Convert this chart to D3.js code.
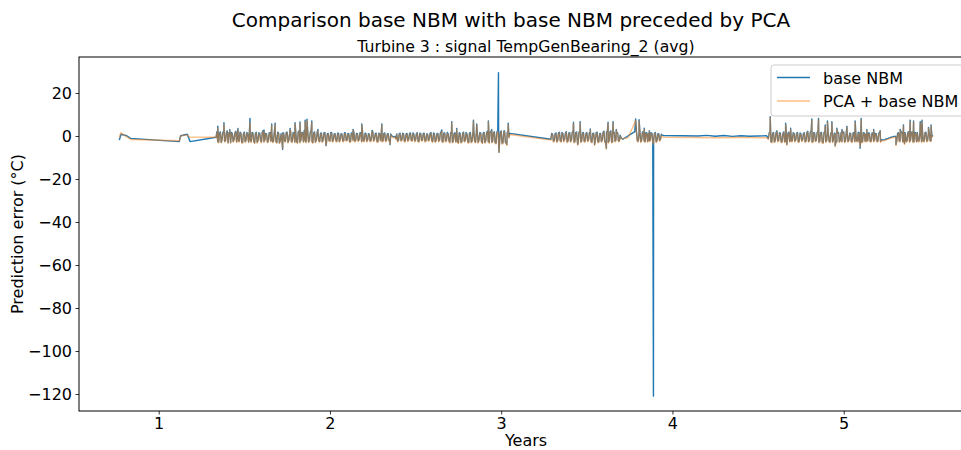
<!DOCTYPE html>
<html>
<head>
<meta charset="utf-8">
<script src="https://cdn.jsdelivr.net/npm/d3@7/dist/d3.min.js"></script>
<style>
  body { margin: 0; background: #fff; }
  svg { display: block; font-family: "DejaVu Sans", sans-serif; }
  .tick text { font-size: 16px; fill: #000; }
</style>
</head>
<body>
<svg id="chart" width="961" height="450"></svg>
<script>
(function () {
  // ==================
  // Data (years, prediction error in °C)
  // ==================
  const xTicks = [1, 2, 3, 4, 5];
  const yTicks = [20, 0, -20, -40, -60, -80, -100, -120];
  const seriesNames = ['base NBM', 'PCA + base NBM'];

  // dense stretches are sampled every STEP years from these starts,
  // a second reading sits half a step later (the "b" lists)
  const STEP = 0.01;
  const r1Start = 1.34;
  const r2Start = 3.29;
  const r3Start = 3.79;
  const r4Start = 4.56;

  // ---- base NBM ----
  const blueLead = [[0.770, -1.9], [0.780, 0.8], [0.813, 0.1], [0.836, -1.1], [1.120, -2.6],
    [1.128, 0.1], [1.167, 0.8], [1.183, -2.6], [1.335, -0.6]];
  const blueR1 = [
    2.0, -2.8, 1.9, -1.6, 2.1, -2.2, 2.4, 1.5, -3.0, 1.1,
    -1.7, 2.2, 1.8, -2.4, 1.3, -2.9, 1.8, -1.9, 0.9, 2.3,
    -2.6, 1.5, -3.2, 1.7, -2.0, 1.2, -2.7, 2.5, -1.8, 0.8,
    -2.3, 1.6, 2.0, -2.5, 1.9, -3.0, 1.4, -2.1, -2.6, 1.3,
    -2.4, 1.8, -1.9, 2.2, -2.6, 1.2, 2.1, -3.1, 2.4, -2.0,
    1.6, 2.6, -2.8, 2.2, -2.2, 2.5, -3.0, 1.9, -2.1, 1.7,
    -2.5, 1.4, -1.9, 1.6, -2.7, 1.2, -2.2, 1.5, -1.8, 1.1,
    -2.4, 1.3, -1.6, 0.9, -2.2, 1.4, -1.9, 1.0, -2.5, 1.2,
    1.6, -2.0, 1.1, -1.7, 1.5, 1.9, -2.3, 1.2, -1.8, 0.8,
    -2.1, 2.0, -1.6, 1.3, -2.6, 1.0, 1.8, -2.2, 1.4, -1.9,
    1.1, -2.4, 0.2, -0.4, -0.2, 1.0, -2.0, 1.3, -1.7, 0.9,
    -2.3, 1.2, -1.5, 1.4, -2.1, 0.8, -1.8, 1.5, -2.4, 1.1,
    -1.9, 1.3, -2.2, 0.9, -1.6, 1.6, -2.5, 1.0, -2.0, 1.2,
    -1.8, 2.2, -2.7, 1.4, -2.1, 1.1, -2.9, 2.0, -2.4, 1.5,
    1.9, -3.1, 1.2, -2.6, 1.8, -2.2, 1.0, -3.0, 1.6, -2.3,
    2.4, -2.8, 2.0, -2.0, 1.4, -3.2, 1.7, -2.1, 2.2, -3.0,
    2.1, -2.4, 1.9, -3.3, 2.5, -3.5, 2.3, -3.2, 2.0, -3.4,
    2.2, 1.2];
  const blueR1b = [
    -2.6, 1.2, -2.9, 1.7, -2.4, 1.5, -3.1, 0.9, 1.6, -2.5,
    1.4, -2.7, -2.2, 1.8, -3.0, 1.1, -2.6, 1.6, -2.8, -1.9,
    1.7, -2.4, 1.3, -2.9, 1.5, -2.2, 1.9, -2.6, 1.2, -2.8,
    1.4, -2.3, -2.7, 1.6, -2.5, 1.8, -3.2, 1.1, 1.5, -2.4,
    1.7, -2.9, 1.2, -2.5, 1.6, -2.8, -2.4, 1.9, -2.9, 1.4,
    -2.6, -2.2, 1.6, -2.7, 1.8, -2.5, 1.3, -2.8, 1.5, -2.3,
    1.2, -2.6, 1.4, -2.4, 1.1, -2.1, 1.6, -2.5, 1.0, -2.2,
    1.3, -2.5, 1.1, -2.3, 1.5, -2.0, 1.2, -2.6, 1.4, -1.9,
    -2.4, 1.2, -2.2, 1.4, -2.5, -2.1, 1.3, -2.4, 1.1, -2.3,
    1.5, -2.2, 1.2, -2.5, 1.3, -2.0, -2.4, 1.2, -2.3, 1.0,
    -2.1, 0.9, -0.1, -0.3, -1.2, -2.3, 1.1, -2.1, 1.3, -2.4,
    1.0, -2.2, 1.2, -2.0, 1.4, -2.3, 1.1, -2.5, 1.3, -2.0,
    1.2, -2.4, 1.0, -2.1, 1.3, -2.2, 1.4, -2.6, 1.1, -2.3,
    1.5, -2.5, 1.3, -2.4, 1.6, -2.2, 1.4, -2.8, 1.2, -2.6,
    -2.7, 1.5, -2.9, 1.3, -2.4, 1.6, -2.7, 1.4, -2.8, 1.3,
    -2.5, 1.6, -2.9, 1.5, -2.6, 1.4, -3.0, 1.7, -2.6, 1.5,
    -2.8, 1.6, -3.1, 1.8, -3.0, 1.9, -3.3, 1.7, -2.9, 1.6,
    -0.5];
  const blueR2 = [
    -1.5, 0.8, -2.2, 1.4, -1.9, 1.7, -2.5, 1.2, -1.6, 2.0,
    -2.3, 1.5, -1.8, 2.1, -2.6, 1.9, -2.4, 2.2, -2.1, 1.6,
    -2.4, 1.6, -1.7, 1.9, -2.8, 1.3, -2.0, 1.8, -2.6, 1.2,
    -1.9, 2.2, -2.9, 2.0, -2.3, 2.4, -2.7, 1.7, -1.8, 1.4,
    -2.2, -0.8];
  const blueR2b = [
    1.2, -2.4, 1.1, -2.6, 1.5, -2.2, 1.6, -2.3, 1.3, -2.7,
    1.4, -2.5, 1.7, -2.8, 1.5, -2.6, 1.9, -2.7, 1.4, -2.5,
    1.3, -2.3, 1.5, -2.6, 1.2, -2.4, 1.6, -2.8, 1.1, -2.5,
    1.7, -2.6, 1.8, -2.9, 1.9, -2.8, 1.5, -2.4, 1.2, -2.3,
    0.4];
  const blueGap = [[3.71, -1.5], [3.78, 2.0]];
  const blueR3 = [1.8, -2.4, 2.1, -1.8, 1.6, -2.6, 1.5, 1.2, -2.0, 1.3,
    -2.2, 1.6, -2.1, 1.0, -1.4, 0.3];
  const blueR3b = [-2.2, 1.7, -2.6, 1.9, -2.3, 1.4, -2.5, -2.2, 1.5, -2.4,
    1.2, -2.6, 1.1, -2.0, 0.8];
  const blueFlat = [[3.95, 0.2], [4.05, 0.1], [4.15, 0.0], [4.20, 0.3], [4.25, -0.1], [4.30, 0.2],
    [4.35, -0.2], [4.40, 0.1], [4.45, -0.1], [4.50, 0.0], [4.55, 0.1]];
  const blueR4 = [
    -1.2, 2.0, -2.8, 1.6, -2.2, 2.4, -1.9, 1.3, -2.6, 1.9,
    -2.4, -2.6, 1.8, 1.4, -2.2, 1.2, -1.7, 1.6, -2.5, 1.0,
    -1.8, 1.5, -2.3, 2.2, -1.9, 2.1, -2.6, 1.4, -2.0, 2.3,
    -2.4, 1.7, -3.1, 2.0, -2.1, 1.3, -2.7, 1.6, -1.8, 1.2,
    -2.6, 1.5, -2.0, -2.5, 1.9, -2.3, 1.5, -1.9, 1.2, -2.5,
    1.6, 2.0, -2.2, -2.7, 2.2, -2.6, 1.4, 1.0, -2.1, 1.3,
    -2.4, 1.5, -1.9, 1.1, -2.2, 1.5, -1.7, -1.9, -1.7, -1.4,
    -1.1, -0.8, -0.5, -0.3, -0.1, -2.0, 1.5, -2.1, 1.7, -2.5,
    1.4, -2.2, 2.0, -2.0, 1.8, -2.6, 1.5, 1.6, -2.3, 1.2,
    2.0, -2.4, 1.8, -1.9, 1.4, -2.1, 0.4];
  const blueR4b = [
    1.4, -2.5, 1.3, -2.7, 1.6, -2.4, 1.5, -2.8, 1.2, -2.6,
    1.6, 1.3, -2.5, -2.3, 1.5, -2.4, 1.3, -2.7, 1.4, -2.2,
    1.2, -2.6, 1.6, -2.5, 1.8, -2.7, 1.5, -2.3, 1.7, -2.8,
    1.5, -2.9, 1.6, -2.6, 1.7, -2.5, 1.4, -2.7, 1.3, -2.4,
    1.5, -2.6, 1.6, 1.4, -2.7, 1.6, -2.5, 1.3, -2.6, 1.4,
    -2.5, -2.3, 1.8, 1.6, -2.8, 1.5, -2.4, -2.3, 1.4, -2.5,
    1.3, -2.4, 1.2, -2.5, 1.3, -2.6, -1.8, -1.8, -1.5, -1.2,
    -0.9, -0.6, -0.4, -0.2, -0.6, 1.3, -2.4, 1.6, -2.6, 1.5,
    -2.5, 1.7, -2.6, 1.8, -2.7, 1.6, -2.5, -2.4, 1.5, -2.6,
    -2.3, 1.6, -2.4, 1.5, -2.2, -0.3];
  const blueSpikes = [
    [1.345, 4.6], [1.381, 6.2], [1.415, 3.0], [1.463, 3.5], [1.533, 8.2], [1.615, 2.8],
    [1.660, 5.6], [1.680, 6.0], [1.724, -6.2], [1.767, 3.5], [1.796, 6.2], [1.825, 6.5],
    [1.855, 7.4], [1.866, 7.8], [1.894, 7.0], [1.930, 3.0], [1.977, -4.5], [2.135, 3.0],
    [2.186, 5.6], [2.246, 2.6], [2.303, 5.6], [2.351, -4.0], [2.653, 2.8], [2.711, 6.7],
    [2.740, 3.5], [2.838, 7.4], [2.857, 5.6], [2.925, 7.0], [2.945, 3.0], [2.984, 29.4],
    [2.987, -7.5], [3.017, 2.5], [3.033, -4.0], [3.041, 6.0],
    [3.422, 6.4], [3.447, -3.9], [3.461, 6.7], [3.520, 3.3], [3.545, -4.0], [3.614, -5.7],
    [3.624, 6.4], [3.653, 6.7], [3.672, 3.0],
    [3.785, 7.9], [3.805, 7.6], [3.835, 3.6], [3.865, 2.5], [3.889, -121.0],
    [4.571, 9.0], [4.661, 5.9], [4.668, -3.9], [4.690, 3.6], [4.814, 7.9], [4.853, 8.2],
    [4.892, 5.1], [4.905, 7.0], [4.931, 6.7], [4.950, -4.5], [4.960, 3.6], [4.990, 3.0],
    [5.019, 4.5], [5.067, 7.0], [5.096, -5.7], [5.102, 8.2], [5.135, 3.0], [5.175, 3.0],
    [5.213, 2.5], [5.305, -4.0], [5.330, 3.0], [5.349, 5.1], [5.355, -3.5], [5.388, 7.4],
    [5.408, 7.0], [5.447, 6.6], [5.457, 7.4], [5.495, 4.0], [5.510, 5.1]];

  // ---- PCA + base NBM ----
  const orangeLead = [[0.770, -0.8], [0.778, 1.5], [0.790, 0.9], [0.836, -1.6], [1.120, -2.2],
    [1.128, 0.0], [1.167, 0.5], [1.180, -0.5], [1.335, -0.6]];
  const orangeR1 = [
    1.6, -3.2, 1.5, -2.0, 1.8, -2.6, 2.0, 1.1, -3.3, 0.8,
    -2.1, 1.9, 1.4, -2.8, 1.0, -3.3, 1.5, -2.3, 0.6, 1.9,
    -3.0, 1.2, -3.5, 1.4, -2.4, 0.9, -3.1, 2.2, -2.2, 0.5,
    -2.7, 1.3, 1.7, -2.9, 1.5, -3.4, 1.1, -2.5, -2.9, 1.0,
    -2.8, 1.5, -2.3, 1.9, -3.0, 0.9, 1.8, -3.6, 2.0, -2.4,
    1.3, 2.2, -3.2, 1.9, -2.6, 2.1, -3.4, 1.6, -2.5, 1.4,
    -2.9, 1.1, -2.3, 1.3, -3.1, 0.9, -2.6, 1.2, -2.2, 0.8,
    -2.8, 1.0, -2.0, 0.6, -2.6, 1.1, -2.3, 0.7, -2.9, 0.9,
    1.3, -2.4, 0.8, -2.1, 1.2, 1.6, -2.7, 0.9, -2.2, 0.5,
    -2.5, 1.7, -2.0, 1.0, -3.0, 0.7, 1.5, -2.6, 1.1, -2.3,
    0.8, -2.8, -0.1, -0.7, -0.5, 0.7, -2.4, 1.0, -2.1, 0.6,
    -2.7, 0.9, -1.9, 1.1, -2.5, 0.5, -2.2, 1.2, -2.8, 0.8,
    -2.3, 1.0, -2.6, 0.6, -2.0, 1.3, -2.9, 0.7, -2.4, 0.9,
    -2.2, 1.8, -3.1, 1.1, -2.5, 0.8, -3.3, 1.7, -2.8, 1.2,
    1.6, -3.5, 0.9, -3.0, 1.5, -2.6, 0.7, -3.4, 1.3, -2.7,
    2.0, -3.2, 1.7, -2.4, 1.1, -3.6, 1.4, -2.5, 1.9, -3.4,
    1.8, -2.8, 1.6, -3.7, 2.1, -3.9, 2.0, -3.6, 1.7, -3.8,
    1.8, 0.7];
  const orangeR1b = [
    -3.0, 0.9, -3.2, 1.3, -2.8, 1.1, -3.4, 0.6, 1.2, -2.9,
    1.0, -3.1, -2.6, 1.4, -3.3, 0.8, -3.0, 1.2, -3.1, -2.3,
    1.3, -2.8, 0.9, -3.3, 1.1, -2.6, 1.5, -3.0, 0.8, -3.1,
    1.0, -2.7, -3.0, 1.2, -2.9, 1.4, -3.5, 0.7, 1.1, -2.8,
    1.3, -3.2, 0.8, -2.9, 1.2, -3.1, -2.8, 1.5, -3.2, 1.0,
    -3.0, -2.6, 1.2, -3.0, 1.4, -2.9, 0.9, -3.1, 1.1, -2.7,
    0.8, -3.0, 1.0, -2.8, 0.7, -2.5, 1.2, -2.9, 0.6, -2.6,
    0.9, -2.9, 0.7, -2.7, 1.1, -2.4, 0.8, -3.0, 1.0, -2.3,
    -2.8, 0.8, -2.6, 1.0, -2.9, -2.5, 0.9, -2.8, 0.7, -2.7,
    1.1, -2.6, 0.8, -2.9, 0.9, -2.4, -2.8, 0.8, -2.7, 0.6,
    -2.5, 0.5, -0.5, -0.8, -1.6, -2.7, 0.7, -2.5, 0.9, -2.8,
    0.6, -2.6, 0.8, -2.4, 1.0, -2.7, 0.7, -2.9, 0.9, -2.4,
    0.8, -2.8, 0.6, -2.5, 0.9, -2.6, 1.0, -3.0, 0.7, -2.7,
    1.1, -2.9, 0.9, -2.8, 1.2, -2.6, 1.0, -3.2, 0.8, -3.0,
    -3.1, 1.1, -3.3, 0.9, -2.8, 1.2, -3.1, 1.0, -3.2, 0.9,
    -2.9, 1.2, -3.3, 1.1, -3.0, 1.0, -3.4, 1.3, -3.0, 1.1,
    -3.2, 1.2, -3.5, 1.4, -3.4, 1.5, -3.7, 1.3, -3.3, 1.2,
    -0.9];
  const orangeR2 = [
    -1.9, 0.5, -2.6, 1.1, -2.3, 1.4, -2.9, 0.9, -2.0, 1.7,
    -2.7, 1.2, -2.2, 1.8, -3.0, 1.6, -2.9, 1.9, -2.5, 1.3,
    -2.8, 1.3, -2.1, 1.6, -3.2, 1.0, -2.4, 1.5, -3.0, 0.9,
    -2.3, 1.9, -3.4, 1.7, -2.7, 2.0, -3.1, 1.4, -2.2, 1.1,
    -2.6, -1.2];
  const orangeR2b = [
    0.8, -2.8, 0.7, -3.0, 1.1, -2.6, 1.2, -2.7, 0.9, -3.1,
    1.0, -2.9, 1.3, -3.2, 1.1, -3.0, 1.5, -3.1, 1.0, -2.9,
    0.9, -2.7, 1.1, -3.0, 0.8, -2.8, 1.2, -3.2, 0.7, -2.9,
    1.3, -3.0, 1.4, -3.3, 1.5, -3.2, 1.1, -2.8, 0.8, -2.7,
    0.0];
  const orangeGap = [[3.74, -0.9]];
  const orangeR3 = [1.5, -2.8, 1.8, -2.2, 1.3, -3.0, 1.2, 0.9, -2.4, 1.0,
    -2.6, 1.3, -2.5, 0.7, -1.8, -0.4];
  const orangeR3b = [-2.6, 1.3, -3.0, 1.5, -2.7, 1.0, -2.9, -2.6, 1.1, -2.8,
    0.8, -3.0, 0.7, -2.4, 0.4];
  const orangeFlat = [[3.95, -0.6], [4.10, -0.7], [4.25, -0.8], [4.40, -0.7], [4.55, -0.8]];
  const orangeR4 = [
    -1.6, 1.7, -3.2, 1.3, -2.6, 2.1, -2.3, 1.0, -3.0, 1.6,
    -2.8, -3.0, 1.5, 1.1, -2.6, 0.9, -2.1, 1.3, -2.9, 0.7,
    -2.2, 1.2, -2.7, 1.9, -2.3, 1.8, -3.0, 1.1, -2.4, 2.0,
    -2.8, 1.4, -3.5, 1.7, -2.5, 1.0, -3.1, 1.3, -2.2, 0.9,
    -3.0, 1.2, -2.4, -2.9, 1.6, -2.7, 1.2, -2.3, 0.9, -2.9,
    1.3, 1.7, -2.6, -3.0, 1.9, -3.0, 1.1, 0.8, -2.5, 1.0,
    -2.8, 1.2, -2.3, 0.8, -2.6, 1.2, -2.1, -2.3, -2.0, -1.8,
    -1.5, -1.2, -0.9, -0.7, -0.5, -2.4, 1.2, -2.5, 1.4, -2.9,
    1.1, -2.6, 1.7, -2.4, 1.5, -3.0, 1.2, 1.3, -2.7, 0.9,
    1.7, -2.8, 1.5, -2.3, 1.1, -2.5, 0.1];
  const orangeR4b = [
    1.0, -2.9, 0.9, -3.1, 1.2, -2.8, 1.1, -3.2, 0.8, -3.0,
    1.2, 0.9, -2.9, -2.7, 1.1, -2.8, 0.9, -3.1, 1.0, -2.6,
    0.8, -3.0, 1.2, -2.9, 1.4, -3.1, 1.1, -2.7, 1.3, -3.2,
    1.1, -3.3, 1.2, -3.0, 1.3, -2.9, 1.0, -3.1, 0.9, -2.8,
    1.1, -3.0, 1.2, 1.0, -3.1, 1.2, -2.9, 0.9, -3.0, 1.0,
    -2.9, -2.7, 1.4, 1.2, -3.2, 1.1, -2.8, -2.7, 1.0, -2.9,
    0.9, -2.8, 0.8, -2.9, 0.9, -3.0, -2.2, -2.2, -1.9, -1.6,
    -1.3, -1.0, -0.8, -0.6, -1.0, 0.9, -2.8, 1.2, -3.0, 1.1,
    -2.9, 1.3, -3.0, 1.4, -3.1, 1.2, -2.9, -2.8, 1.1, -3.0,
    -2.7, 1.2, -2.8, 1.1, -2.6, -0.7];
  const orangeSpikes = [
    [1.345, 3.8], [1.381, 5.5], [1.415, 2.6], [1.463, 3.0], [1.533, 6.5], [1.615, 2.2],
    [1.660, 5.0], [1.680, 5.4], [1.724, -5.8], [1.767, 3.1], [1.796, 5.7], [1.825, 6.0],
    [1.855, 6.8], [1.866, 7.1], [1.894, 6.4], [1.930, 2.6], [1.977, -4.2], [2.135, 2.6],
    [2.186, 5.0], [2.246, 2.2], [2.303, 5.1], [2.351, -3.8], [2.653, 2.1], [2.711, 6.2],
    [2.740, 3.1], [2.838, 6.9], [2.857, 5.1], [2.925, 6.5], [2.945, 2.6], [2.987, -7.7],
    [3.017, 2.1], [3.033, -4.4], [3.041, 5.4],
    [3.422, 5.8], [3.447, -4.3], [3.461, 6.1], [3.520, 2.9], [3.545, -4.4], [3.614, -6.1],
    [3.624, 5.9], [3.653, 6.2], [3.672, 2.8],
    [3.785, 7.2], [3.805, 7.0], [3.835, 3.2], [3.865, 2.1], [3.889, -3.8],
    [4.571, 8.6], [4.661, 5.3], [4.668, -4.3], [4.690, 3.2], [4.814, 7.3], [4.853, 7.6],
    [4.892, 4.6], [4.905, 6.4], [4.931, 6.1], [4.950, -4.9], [4.960, 3.2], [4.990, 2.6],
    [5.019, 4.1], [5.067, 6.4], [5.096, -5.2], [5.102, 7.6], [5.135, 2.7], [5.175, 2.7],
    [5.213, 2.2], [5.305, -4.4], [5.330, 2.7], [5.349, 4.7], [5.355, -3.9], [5.388, 6.8],
    [5.408, 6.5], [5.447, 6.0], [5.457, 6.8], [5.495, 3.6], [5.510, 4.6]];

  const sampled = (start, values) => values.map((v, i) => [start + i * STEP, v]);
  const halfStep = (start, values) => sampled(start + STEP / 2, values);

  const blueData = d3.sort([].concat(
    blueLead,
    sampled(r1Start, blueR1), halfStep(r1Start, blueR1b),
    sampled(r2Start, blueR2), halfStep(r2Start, blueR2b),
    blueGap,
    sampled(r3Start, blueR3), halfStep(r3Start, blueR3b),
    blueFlat,
    sampled(r4Start, blueR4), halfStep(r4Start, blueR4b),
    blueSpikes), d => d[0]);
  const orangeData = d3.sort([].concat(
    orangeLead,
    sampled(r1Start, orangeR1), halfStep(r1Start, orangeR1b),
    sampled(r2Start, orangeR2), halfStep(r2Start, orangeR2b),
    orangeGap,
    sampled(r3Start, orangeR3), halfStep(r3Start, orangeR3b),
    orangeFlat,
    sampled(r4Start, orangeR4), halfStep(r4Start, orangeR4b),
    orangeSpikes), d => d[0]);

  // ==================
  // Layout
  // ==================
  const MARGIN_LEFT = 79;
  const MARGIN_TOP = 57;
  const PLOT_BOTTOM = 411;
  const PLOT_RIGHT = 973;
  const BLUE = '#1f77b4';
  const ORANGE = '#ff7f0e';

  const svg = d3.select('#chart');

  const xScale = d3.scaleLinear().domain([0.5346, 5.755]).range([MARGIN_LEFT, PLOT_RIGHT]);
  const yScale = d3.scaleLinear().domain([-127.9, 36.74]).range([PLOT_BOTTOM, MARGIN_TOP]);

  svg.append('defs').append('clipPath').attr('id', 'plotClip')
    .append('rect')
    .attr('x', MARGIN_LEFT).attr('y', MARGIN_TOP)
    .attr('width', PLOT_RIGHT - MARGIN_LEFT).attr('height', PLOT_BOTTOM - MARGIN_TOP);

  const line = d3.line().x(d => xScale(d[0])).y(d => yScale(d[1]));

  const plot = svg.append('g').attr('clip-path', 'url(#plotClip)');
  plot.append('path').attr('d', line(blueData))
    .attr('fill', 'none').attr('stroke', BLUE).attr('stroke-width', 1.4)
    .attr('stroke-linejoin', 'round');
  plot.append('path').attr('d', line(orangeData))
    .attr('fill', 'none').attr('stroke', ORANGE).attr('stroke-width', 1.4)
    .attr('stroke-opacity', 0.5).attr('stroke-linejoin', 'round');

  // ==================
  // Axes
  // ==================
  const xAxis = d3.axisBottom(xScale).tickValues(xTicks).tickFormat(d3.format('d'))
    .tickSize(3.5).tickPadding(3.5).tickSizeOuter(0);
  const yAxis = d3.axisLeft(yScale).tickValues(yTicks).tickFormat(d3.format('d'))
    .tickSize(3.5).tickPadding(3.5).tickSizeOuter(0);

  const xAxisGroup = svg.append('g').attr('transform', `translate(0, ${PLOT_BOTTOM})`).call(xAxis);
  const yAxisGroup = svg.append('g').attr('transform', `translate(${MARGIN_LEFT}, 0)`).call(yAxis);
  [xAxisGroup, yAxisGroup].forEach(g => {
    g.attr('font-family', null).attr('font-size', null);
    g.select('.domain').remove();
    g.selectAll('.tick line').attr('stroke', '#000').attr('stroke-width', 0.8);
  });

  // spines
  svg.append('rect')
    .attr('x', MARGIN_LEFT).attr('y', MARGIN_TOP)
    .attr('width', PLOT_RIGHT - MARGIN_LEFT).attr('height', PLOT_BOTTOM - MARGIN_TOP)
    .attr('fill', 'none').attr('stroke', '#000').attr('stroke-width', 1);

  // ==================
  // Labels
  // ==================
  svg.append('text').attr('x', 511).attr('y', 27).attr('text-anchor', 'middle')
    .attr('font-size', 20).text('Comparison base NBM with base NBM preceded by PCA');
  svg.append('text').attr('x', (MARGIN_LEFT + PLOT_RIGHT) / 2).attr('y', 51.5).attr('text-anchor', 'middle')
    .attr('font-size', 15.7).text('Turbine 3 : signal TempGenBearing_2 (avg)');
  svg.append('text').attr('x', (MARGIN_LEFT + PLOT_RIGHT) / 2).attr('y', 446).attr('text-anchor', 'middle')
    .attr('font-size', 16).text('Years');
  svg.append('text')
    .attr('transform', `translate(23, ${(MARGIN_TOP + PLOT_BOTTOM) / 2}) rotate(-90)`)
    .attr('text-anchor', 'middle').attr('font-size', 16).text('Prediction error (°C)');

  // ==================
  // Legend
  // ==================
  const legend = svg.append('g').attr('transform', 'translate(771, 65)');
  legend.append('rect').attr('width', 210).attr('height', 51).attr('rx', 3)
    .attr('fill', '#fff').attr('fill-opacity', 0.8).attr('stroke', '#cccccc');
  seriesNames.forEach((name, i) => {
    const yPos = 12.5 + i * 23.5;
    legend.append('line').attr('x1', 6).attr('x2', 39).attr('y1', yPos).attr('y2', yPos)
      .attr('stroke', i === 0 ? BLUE : ORANGE).attr('stroke-width', 1.4)
      .attr('stroke-opacity', i === 0 ? 1 : 0.5);
    legend.append('text').attr('x', 52).attr('y', yPos + 6).attr('font-size', 16).text(name);
  });
})();
</script>
</body>
</html>
